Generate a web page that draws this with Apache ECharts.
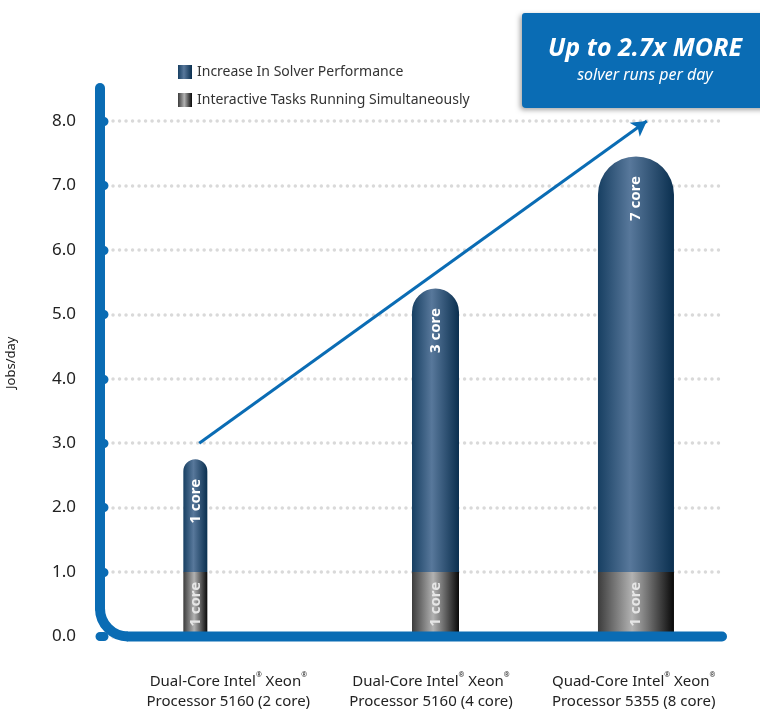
<!DOCTYPE html>
<html><head><meta charset="utf-8">
<script src="https://cdn.jsdelivr.net/npm/echarts@6/dist/echarts.min.js"></script>
<style>html,body{margin:0;padding:0;background:#fff}#c{width:760px;height:709px}</style>
</head><body><div id="c"></div>
<script>
// ---- data ----
const categories = [
  'Dual-Core Intel® Xeon®\nProcessor 5160 (2 core)',
  'Dual-Core Intel® Xeon®\nProcessor 5160 (4 core)',
  'Quad-Core Intel® Xeon®\nProcessor 5355 (8 core)'
];
const interactiveTasks = [1.0, 1.0, 1.0];
const solverIncrease = [1.75, 4.4, 6.45];
const solverLabels = ['1 core', '3 core', '7 core'];
const interactiveLabels = ['1 core', '1 core', '1 core'];
const yMin = 0, yMax = 8, yStep = 1;
const arrowFrom = [16, 3.0];
const arrowTo = [88.2, 8.0];
const seriesNames = ['Increase In Solver Performance', 'Interactive Tasks Running Simultaneously'];
const calloutTitle = 'Up to 2.7x MORE';
const calloutSub = 'solver runs per day';
const yName = 'Jobs/day';

// ---- layout/style constants ----
const FONT = '"Noto Sans", sans-serif';
const BLUE = '#0a6cb4';
const barWidths = [24, 47, 76];
const barShift = [-33, 4.5, 2.3];
const blueGrad = () => new echarts.graphic.LinearGradient(0, 0, 1, 0, [
  {offset: 0, color: '#173f62'}, {offset: 0.42, color: '#58789b'}, {offset: 1, color: '#0a2f4f'}]);
const grayGrad = () => new echarts.graphic.LinearGradient(0, 0, 1, 0, [
  {offset: 0, color: '#3c3c3c'}, {offset: 0.45, color: '#b2b2b2'}, {offset: 1, color: '#080808'}]);

const interactiveData = interactiveTasks.map((v, i) => [i, 0, v]);
const solverData = solverIncrease.map((v, i) => [i, interactiveTasks[i], interactiveTasks[i] + v]);

function makeRender(kind) {
  return function (params, api) {
    const i = api.value(0);
    const base = api.value(1);
    const top = api.value(2);
    const cx = api.coord([i, 0])[0] + barShift[i];
    const w = barWidths[i];
    const yB = api.coord([i, base])[1];
    const yT = api.coord([i, top])[1];
    const isSolver = kind === 'solver';
    const r = isSolver ? [w / 2, w / 2, 0, 0] : 0;
    const labelY = isSolver ? yT + 42 : (yB + yT) / 2;
    return {
      type: 'group',
      children: [
        {type: 'rect', shape: {x: cx - w / 2, y: yT, width: w, height: yB - yT, r: r},
         style: {fill: isSolver ? blueGrad() : grayGrad()}},
        {type: 'text', x: cx, y: labelY, rotation: Math.PI / 2,
         style: {text: isSolver ? solverLabels[i] : interactiveLabels[i],
                 fill: isSolver ? '#ffffff' : '#e6e6e6',
                 font: 'bold 15px ' + FONT,
                 align: 'center', verticalAlign: 'middle',
                 textAlign: 'center', textVerticalAlign: 'middle'}}
      ]
    };
  };
}

function catLabel(v) {
  return v.split('\n').map(line => {
    const parts = line.split('®');
    return parts.map(p => p ? '{t|' + p + '}' : '').join('{s|®}');
  }).join('\n');
}

const chart = echarts.init(document.getElementById('c'), null, {renderer: 'canvas'});
const option = {
  animation: false,
  textStyle: {fontFamily: FONT},
  legend: {
    orient: 'vertical', left: 178, top: 65, padding: 0,
    itemWidth: 14, itemHeight: 14, itemGap: 14,
    textStyle: {fontSize: 14, color: '#333', fontFamily: FONT},
    selectedMode: false,
    data: [
      {name: seriesNames[0], icon: 'rect', itemStyle: {color: blueGrad()}},
      {name: seriesNames[1], icon: 'rect', itemStyle: {color: grayGrad()}}
    ]
  },
  grid: [
    {left: 100, right: 40, top: 121, bottom: 72.5, outerBoundsMode: 'none'},
    {left: 127, right: 25, top: 121, bottom: 72.5, outerBoundsMode: 'none'}
  ],
  xAxis: [
    {type: 'value', gridIndex: 0, min: 0, max: 100, show: false},
    {type: 'category', gridIndex: 1, data: categories,
     axisLine: {show: false}, axisTick: {show: false},
     axisLabel: {interval: 0, margin: 35, formatter: catLabel, color: '#222',
       rich: {
         t: {fontSize: 15, lineHeight: 20, color: '#222', fontFamily: FONT},
         s: {fontSize: 7, lineHeight: 20, color: '#222', fontFamily: FONT, verticalAlign: 'top', padding: [0, 0, 6, 0]}
       }}}
  ],
  yAxis: [
    {type: 'value', gridIndex: 0, min: yMin, max: yMax, interval: yStep,
     name: yName, nameLocation: 'middle', nameGap: 82, nameRotate: 90,
     nameTextStyle: {fontSize: 13, color: '#222', padding: [0, 0, 0, 32]},
     axisLine: {show: false},
     axisTick: {show: true, inside: true, length: 4, lineStyle: {color: BLUE, width: 9, cap: 'round'}},
     axisLabel: {formatter: v => v.toFixed(1), fontSize: 17, color: '#222', margin: 24},
     splitLine: {show: true, lineStyle: {color: '#d9d9d9', width: 3.5, type: [0.01, 6.5], cap: 'round'}}},
    {type: 'value', gridIndex: 1, min: yMin, max: yMax, interval: yStep, show: false}
  ],
  series: [
    {name: seriesNames[1], type: 'custom', xAxisIndex: 1, yAxisIndex: 1,
     renderItem: makeRender('interactive'), data: interactiveData, itemStyle: {color: grayGrad()}, z: 3},
    {name: seriesNames[0], type: 'custom', xAxisIndex: 1, yAxisIndex: 1,
     renderItem: makeRender('solver'), data: solverData, itemStyle: {color: blueGrad()}, z: 3},
    {name: 'arrow', type: 'line', xAxisIndex: 0, yAxisIndex: 0, data: [arrowFrom, arrowTo],
     showSymbol: false, lineStyle: {opacity: 0}, silent: true, z: 4,
     markLine: {silent: true, symbol: ['none', 'arrow'], symbolSize: [13, 15],
       label: {show: false}, lineStyle: {color: BLUE, width: 3, type: 'solid'},
       data: [[{coord: arrowFrom}, {coord: arrowTo}]]}}
  ]
};
chart.setOption(option);

// frame & callout (decoration), positioned from the axes
const y0 = chart.convertToPixel({yAxisIndex: 0}, yMin);
const yTopPx = chart.convertToPixel({yAxisIndex: 0}, yMax);
const xL = chart.convertToPixel({xAxisIndex: 0}, 0);
const xR = chart.convertToPixel({xAxisIndex: 0}, 100);
const R = 28;
chart.setOption({
  graphic: [
    {type: 'line', z: 20, shape: {x1: xL, y1: yTopPx - 33, x2: xL, y2: y0 - R},
     style: {stroke: BLUE, lineWidth: 10, lineCap: 'round'}},
    {type: 'arc', z: 20, shape: {cx: xL + R, cy: y0 - R, r: R, startAngle: Math.PI / 2, endAngle: Math.PI, clockwise: true},
     style: {stroke: BLUE, lineWidth: 10, fill: null}},
    {type: 'line', z: 20, shape: {x1: xL + R, y1: y0, x2: xR + 2, y2: y0},
     style: {stroke: BLUE, lineWidth: 10, lineCap: 'round'}},
    {type: 'rect', z: 30, shape: {x: 522, y: 13, width: 260, height: 95, r: [3, 0, 0, 4]},
     style: {fill: BLUE, shadowBlur: 5, shadowColor: 'rgba(0,0,0,0.35)', shadowOffsetX: -2, shadowOffsetY: 2}},
    {type: 'text', z: 31, x: 645, y: 49,
     style: {text: calloutTitle, fill: '#fff', font: 'italic bold 25px ' + FONT, align: 'center', verticalAlign: 'middle'}},
    {type: 'text', z: 31, x: 645, y: 75,
     style: {text: calloutSub, fill: '#fff', font: 'italic 16px ' + FONT, align: 'center', verticalAlign: 'middle'}}
  ]
});
</script>
</body></html>
